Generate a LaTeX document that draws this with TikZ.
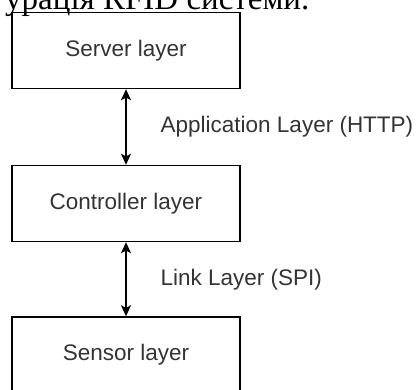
\documentclass[tikz,border=0pt]{standalone}
\usepackage{fontspec}
\setmainfont{Liberation Sans}
\newfontfamily\captionserif{Liberation Serif}
\usetikzlibrary{arrows.meta}
\definecolor{labelgray}{HTML}{333333}
\begin{document}
\begin{tikzpicture}
[layerbox/.style={shape=rectangle,draw,line width=1.4pt,minimum width=228pt,
   minimum height=76pt,inner sep=0pt,text=labelgray,
   font=\fontsize{22.5}{26}\selectfont},%
  linkarrow/.style={{Stealth[length=11pt,width=10pt,inset=2.5pt]}-{Stealth[length=11pt,width=10pt,inset=2.5pt]},line width=1.4pt},%
  linklabel/.style={anchor=west,xshift=34pt,inner sep=0pt,text=labelgray,
   font=\fontsize{22.5}{26}\selectfont},%
  x=1pt,y=1pt]
\path[use as bounding box,clip] (0,0) rectangle (418,390);
%% caption above, cut by the page edge
\node (caption) at (5,380) [anchor=base west,inner sep=0pt,
  font=\captionserif\fontsize{33}{36}\selectfont] {урація RFID системи.};
%% nodes or layers
\foreach \nodename/\y/\txt in {
  server/339.5/Server layer, controller/186.5/Controller layer,
  sensor/35/Sensor layer}
{
  \node (\nodename) at (126,\y) [layerbox] {\txt};
}
%% edges or links
\path
\foreach \startnode/\endnode/\txt in {
  server/controller/Application Layer (HTTP), controller/sensor/Link Layer (SPI)} {
  (\startnode) edge[linkarrow] node[linklabel] {\txt} (\endnode)
};
\end{tikzpicture}
\end{document}
